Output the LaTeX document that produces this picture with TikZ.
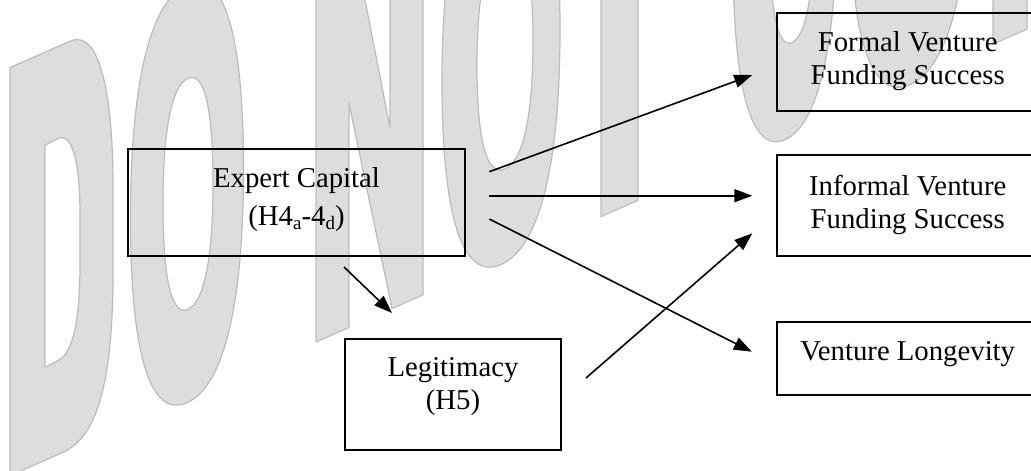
\documentclass[tikz,border=0pt]{standalone}
\usepackage{fontspec}
\setmainfont{Liberation Serif}
\usetikzlibrary{arrows.meta,calc}
\definecolor{wmfill}{RGB}{221,221,221}
\definecolor{wmline}{RGB}{188,188,188}
% stretched oval for the watermark letters: centre (#1,#2), radii #3, #4
\newcommand\wmell[4]{({#1},{#2-#4}) .. controls ({#1+0.65*#3},{#2-#4}) and ({#1+#3},{#2-0.65*#4}) .. ({#1+#3},{#2}) .. controls ({#1+#3},{#2+0.65*#4}) and ({#1+0.65*#3},{#2+#4}) .. ({#1},{#2+#4}) .. controls ({#1-0.65*#3},{#2+#4}) and ({#1-#3},{#2+0.65*#4}) .. ({#1-#3},{#2}) .. controls ({#1-#3},{#2-0.65*#4}) and ({#1-0.65*#3},{#2-#4}) .. ({#1},{#2-#4}) -- cycle }
\newcommand\wsub[1]{\raisebox{-4.5pt}{\fontsize{19}{19}\selectfont #1}}
\begin{document}
\begin{tikzpicture}[x=1pt,y=-1pt,
  wm/.style={fill=wmfill,draw=wmline,line width=1.2pt,even odd rule,line join=round},
  box/.style={draw=black,line width=2pt,inner sep=0pt,rectangle},
  txt/.style={inner sep=0pt,align=center,font=\fontsize{28.75}{33}\selectfont},
  arr/.style={line width=1.6pt,-{Triangle[length=18pt,width=13pt]}}]
\useasboundingbox (0,0) rectangle (1031,471);
\fill[white] (0,0) rectangle (1031,471);
% watermark
\begin{scope}[yslant=0.44]
  % D
  \path[wm] (10,72) -- (70,72) .. controls (101,72) and (113,150) .. (113,235) -- (113,320) .. controls (113,420) and (101,480) .. (63,480) -- (10,480) -- cycle
    (45,165) -- (58,164) .. controls (74,164) and (80,205) .. (80,250) -- (80,300) .. controls (80,350) and (74,386) .. (58,386) -- (45,387) -- cycle;
  % O
  \path[wm] \wmell{187}{276}{56.5}{209} \wmell{188}{276.5}{25}{115.5};
  % N
  \path[wm] (316,72) -- (349,72) -- (390,299) -- (390,72) -- (423,72) -- (423,481) -- (392,481) -- (349,257) -- (349,481) -- (316,481) -- cycle;
  % O
  \path[wm] \wmell{501}{276}{59}{209} \wmell{505}{276}{28}{115};
  % T
  \path[wm] (562,72) -- (678,72) -- (678,160) -- (638,160) -- (638,481) -- (601,481) -- (601,160) -- (562,160) -- cycle;
  % C
  \path[wm] \wmell{785}{276}{52}{209} \wmell{792}{276}{22}{115};
  % O
  \path[wm] \wmell{910}{276}{60}{209} \wmell{910}{276}{27}{115};
  % P
  \path[wm] (993,72) -- (1027,72) -- (1027,481) -- (993,481) -- cycle;
\end{scope}
% boxes
\node[box,minimum width=337pt,minimum height=107pt] (ec) at (296.5,202.5) {};
\node[box,minimum width=216pt,minimum height=111pt] (leg) at (453,394.5) {};
\node[box,minimum width=261pt,minimum height=98pt] (fv) at (907.5,62) {};
\node[box,minimum width=261pt,minimum height=101pt] (ifv) at (907.5,205.5) {};
\node[box,minimum width=261pt,minimum height=73pt] (vl) at (907.5,358.5) {};
% texts (anchor=base is the baseline of the last line)
\node[txt,anchor=base] (ect) at (296.5,225) {Expert Capital\\[4.3pt](H4\wsub{a}-4\wsub{d})};
\node[txt,anchor=base] (legt) at (453,409) {Legitimacy\\(H5)};
\node[txt,anchor=base] (fvt) at (907.7,84.5) {Formal Venture\\Funding Success};
\node[txt,anchor=base] (ifvt) at (907.7,228) {Informal Venture\\Funding Success};
\node[txt,anchor=base] (vlt) at (907.7,360.7) {Venture Longevity};
% connectors
\draw[arr] ($(ec.east)+(23.3,-30.8)$) -- ($(fv.west)+(-23.7,13)$);
\draw[arr] ($(ec.east)+(23.3,-6.8)$) -- ($(ifv.west)+(-23.7,-9.8)$);
\draw[arr] ($(ec.east)+(23.3,16.5)$) -- ($(vl.west)+(-24.2,-6.8)$);
\draw[arr] ($(ec.south)+(47.5,10)$) -- ($(leg.north)+(-61,-25)$);
\draw[arr] ($(leg.east)+(24,-16.5)$) -- ($(ifv.west)+(-23.7,27.8)$);
\end{tikzpicture}
\end{document}
